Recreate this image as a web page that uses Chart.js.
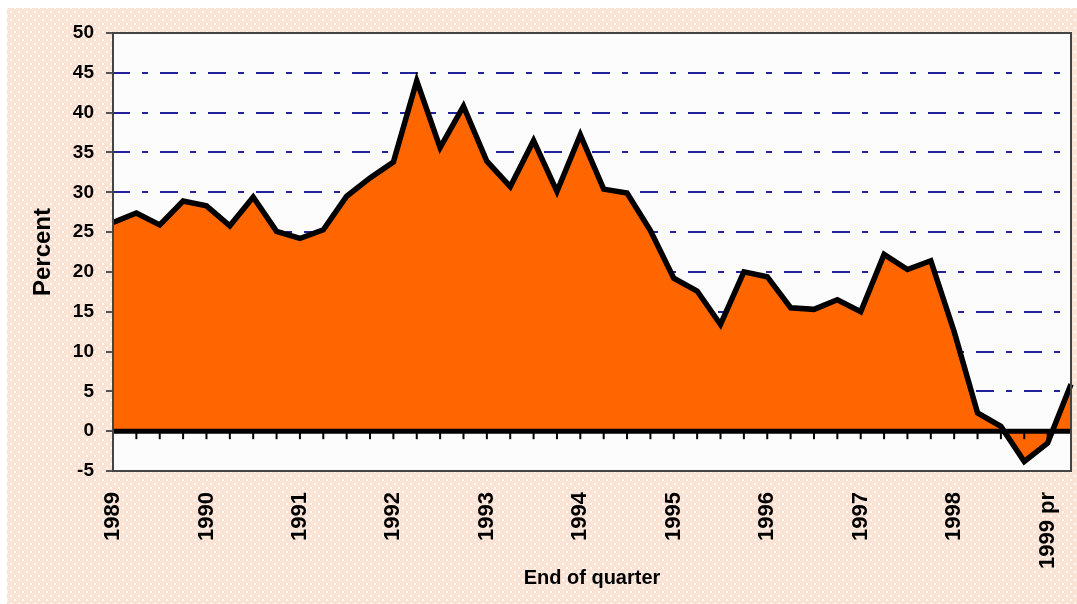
<!DOCTYPE html>
<html>
<head>
<meta charset="utf-8">
<script src="https://cdn.jsdelivr.net/npm/chart.js@4.4.1/dist/chart.umd.min.js"></script>
<style>
  html, body { margin: 0; padding: 0; background: #fff; }
  #wrap {
    position: absolute; left: 7px; top: 8px; width: 1070px; height: 596px;
    background-color: #FAE3D5;
    background-image:
      radial-gradient(circle, rgba(255,255,255,0.95) 0.8px, transparent 1.3px),
      radial-gradient(circle, rgba(255,255,255,0.95) 0.8px, transparent 1.3px);
    background-size: 8px 8px;
    background-position: 0 0, 4px 4px;
  }
</style>
</head>
<body>
<div id="wrap"><canvas id="chart" width="1070" height="596"></canvas></div>
<script>
// quarters, 1989 Q1 .. 1999 Q2
const quarters = [
  '1989Q1','1989Q2','1989Q3','1989Q4','1990Q1','1990Q2','1990Q3','1990Q4',
  '1991Q1','1991Q2','1991Q3','1991Q4','1992Q1','1992Q2','1992Q3','1992Q4',
  '1993Q1','1993Q2','1993Q3','1993Q4','1994Q1','1994Q2','1994Q3','1994Q4',
  '1995Q1','1995Q2','1995Q3','1995Q4','1996Q1','1996Q2','1996Q3','1996Q4',
  '1997Q1','1997Q2','1997Q3','1997Q4','1998Q1','1998Q2','1998Q3','1998Q4',
  '1999Q1','1999Q2'
];

// percent change
const percent = [
  26.2, 27.4, 25.9, 28.9, 28.3, 25.8, 29.4, 25.1,
  24.2, 25.3, 29.5, 31.8, 33.8, 44.0, 35.6, 40.8,
  33.9, 30.7, 36.5, 30.1, 37.2, 30.4, 29.9, 25.2,
  19.2, 17.6, 13.4, 20.0, 19.4, 15.5, 15.3, 16.5,
  15.0, 22.2, 20.3, 21.4, 12.5, 2.3, 0.6, -3.8,
  -1.5, 5.9
];

// one label per year, on the first quarter
const yearLabels = ['1989','1990','1991','1992','1993','1994','1995','1996','1997','1998','1999 pr'];

const FONT = "'Liberation Sans', Arial, sans-serif";

const framePlugin = {
  id: 'frame',
  beforeDraw(chart) {
    const {ctx, chartArea: a} = chart;
    ctx.save();
    ctx.fillStyle = '#FCFCFC';
    ctx.fillRect(a.left, a.top, a.right - a.left, a.bottom - a.top);
    ctx.restore();
  },
  afterDatasetsDraw(chart) {
    const {ctx, chartArea: a, scales: {x, y}} = chart;
    const y0 = y.getPixelForValue(0);
    ctx.save();
    // zero line with quarter ticks
    ctx.strokeStyle = '#000';
    ctx.lineWidth = 2;
    quarters.forEach((q, i) => {
      const px = x.getPixelForValue(i);
      ctx.beginPath();
      ctx.moveTo(px, y0);
      ctx.lineTo(px, y0 + 8);
      ctx.stroke();
    });
    ctx.lineWidth = 5;
    ctx.beginPath();
    ctx.moveTo(a.left, y0);
    ctx.lineTo(a.right, y0);
    ctx.stroke();
    // plot frame
    ctx.lineWidth = 2;
    ctx.strokeStyle = '#444';
    ctx.strokeRect(a.left, a.top, a.right - a.left, a.bottom - a.top);
    ctx.restore();
  }
};

new Chart(document.getElementById('chart').getContext('2d'), {
  type: 'line',
  data: {
    labels: quarters,
    datasets: [{
      data: percent,
      borderColor: '#000',
      borderWidth: 5.5,
      backgroundColor: '#FF6600',
      fill: 'origin',
      tension: 0,
      pointRadius: 0
    }]
  },
  options: {
    responsive: false,
    animation: false,
    devicePixelRatio: 1,
    layout: { padding: { top: 25, right: 6, left: 0, bottom: 0 } },
    plugins: { legend: { display: false }, tooltip: { enabled: false } },
    scales: {
      x: {
        type: 'category',
        offset: false,
        grid: { display: false, drawTicks: false },
        border: { display: true, color: '#555', width: 2 },
        ticks: {
          autoSkip: false, maxRotation: 90, minRotation: 90, padding: 21,
          color: '#000',
          font: { family: FONT, size: 22, weight: 'bold' },
          callback: (v, i) => (i % 4 === 0 ? yearLabels[i / 4] : '')
        },
        title: {
          display: true, text: 'End of quarter', color: '#000',
          font: { family: FONT, size: 20, weight: 'bold' },
          padding: { top: 0, bottom: 14 }
        },
        afterFit: s => { s.height = 133; s.paddingLeft = 0; s.paddingRight = 0; }
      },
      y: {
        min: -5, max: 50,
        ticks: {
          stepSize: 5, padding: 12, color: '#000',
          font: { family: FONT, size: 19, weight: 'bold' }
        },
        grid: {
          color: c => {
            const v = c.tick ? c.tick.value : null;
            return (v === 0 || v === 50 || v === -5) ? 'rgba(0,0,0,0)' : '#22229A';
          },
          lineWidth: 2,
          tickColor: '#555', tickLength: 7, tickWidth: 2, tickBorderDash: []
        },
        border: { display: true, color: '#555', width: 2, dash: [18, 12, 6, 12], dashOffset: 2 },
        title: {
          display: true, text: 'Percent', color: '#000',
          font: { family: FONT, size: 24, weight: 'bold' },
          padding: { top: 22, bottom: 0 }
        },
        afterFit: s => { s.width = 106; s.paddingTop = 0; s.paddingBottom = 0; }
      }
    }
  },
  plugins: [framePlugin]
});
</script>
</body>
</html>
